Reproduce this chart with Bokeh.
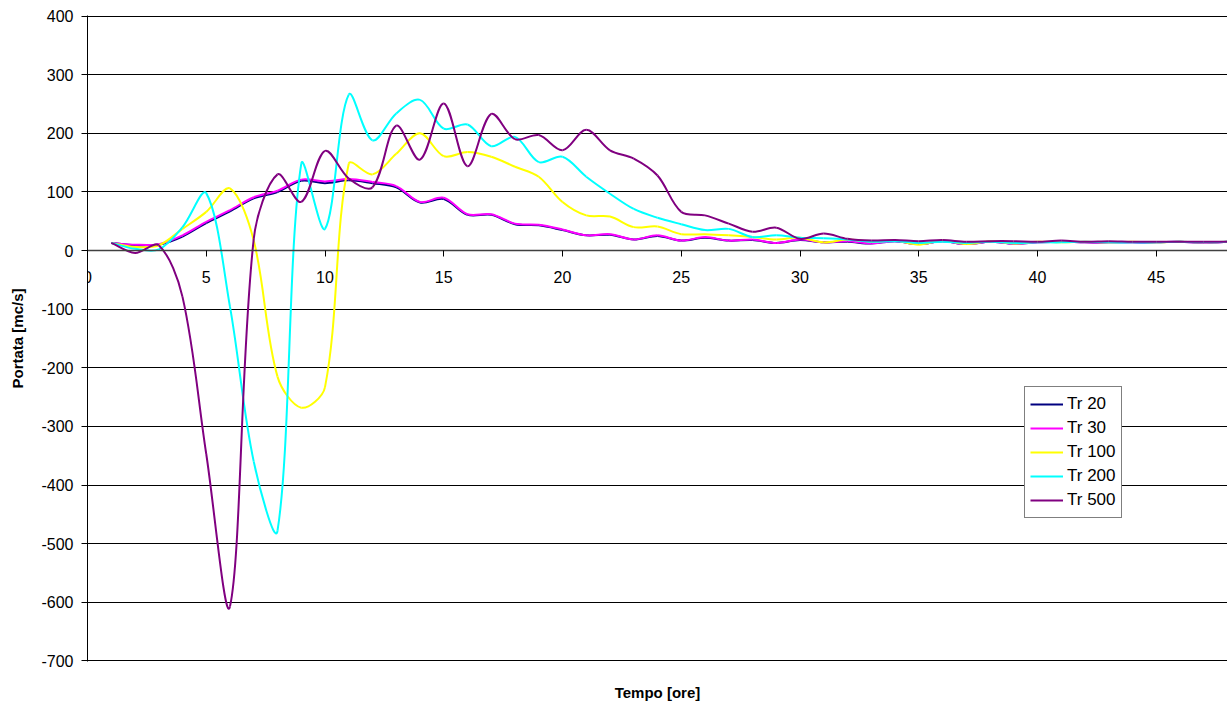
import math
from bokeh.plotting import figure
from bokeh.models import (Range1d, LinearAxis, FixedTicker, Legend, LegendItem,
                          ColumnDataSource, Grid, Label)
from bokeh.embed import file_html
from bokeh.resources import INLINE

# ---------------- data ----------------
hours = list(range(1, 49))

tr20 = [13, 9, 10, 24, 47, 67, 89, 100, 119, 115, 120, 115, 108, 82, 88, 61, 61, 45, 43, 35,
        26, 27, 19, 25, 17, 22, 17, 18, 13, 18, 14, 15, 12,
        16, 11, 16, 11, 15, 12, 14, 15, 14, 14, 14, 14, 15, 13, 15]
tr30 = [13, 10, 11, 26, 49, 69, 91, 102, 121, 118, 122, 117, 110, 83, 90, 62, 62, 46, 44, 36,
        26, 28, 19, 26, 17, 23, 17, 19, 13, 19, 14, 16, 12,
        16, 11, 16, 11, 15, 12, 14, 15, 14, 14, 14, 14, 15, 13, 15]
tr100 = [13, 6, 9, 37, 66, 106, 17, -215, -268, -233, 148, 130, 165, 200, 161, 168, 160, 143, 126, 83,
         60, 58, 40, 41, 28, 28, 26, 23, 19, 22, 14, 19, 15,
         17, 10, 17, 11, 16, 12, 15, 14, 15, 14, 15, 14, 15, 14, 15]
tr200 = [13, 3, 2, 40, 98, -96, -360, -478, 148, 37, 266, 188, 234, 257, 208, 215, 178, 194, 151, 160,
         126, 97, 71, 56, 45, 35, 37, 23, 26, 22, 21, 19, 15,
         16, 13, 15, 13, 15, 13, 14, 14, 15, 14, 14, 14, 15, 14, 15]
tr500 = [13, -4, 9, -79, -347, -607, 20, 130, 83, 170, 123, 108, 213, 155, 251, 144, 233, 190, 197, 171,
         206, 171, 157, 128, 66, 60, 46, 32, 39, 20, 29, 20, 17,
         18, 16, 18, 15, 16, 16, 15, 17, 15, 16, 15, 15, 15, 15, 15]

series_names = ["Tr 20", "Tr 30", "Tr 100", "Tr 200", "Tr 500"]
series_values = [tr20, tr30, tr100, tr200, tr500]
series_colors = ["#000080", "#FF00FF", "#FFFF00", "#00FFFF", "#800080"]

x_ticks = [0, 5, 10, 15, 20, 25, 30, 35, 40, 45]
x_tick_labels = ["0", "5", "10", "15", "20", "25", "30", "35", "40", "45"]
y_ticks = [400, 300, 200, 100, 0, -100, -200, -300, -400, -500, -600, -700]
y_tick_labels = ["400", "300", "200", "100", "0", "-100", "-200", "-300", "-400", "-500", "-600", "-700"]

FONT = "Liberation Sans"
TICK_FS = "16px"

# ---------------- figure ----------------
p = figure(width=1227, height=704, output_backend="svg", toolbar_location=None,
           x_range=Range1d(0, 48), y_range=Range1d(-701, 401),
           x_axis_type=None, y_axis_type=None,
           min_border_left=87, min_border_right=0, min_border_top=15, min_border_bottom=43)
p.outline_line_color = None
p.background_fill_color = "white"
p.border_fill_color = "white"

# y grid
grid = Grid(dimension=1, ticker=FixedTicker(ticks=y_ticks), grid_line_color="#000000",
            grid_line_width=1)
p.center.append(grid)

# y axis
yaxis = LinearAxis(ticker=FixedTicker(ticks=y_ticks),
                   major_label_overrides=dict(zip(y_ticks, y_tick_labels)),
                   axis_label="Portata [mc/s]")
yaxis.axis_line_color = "black"
yaxis.major_tick_line_color = "black"
yaxis.major_tick_out = 6
yaxis.major_tick_in = 0
yaxis.minor_tick_line_color = None
yaxis.major_label_standoff = 8
yaxis.major_label_text_font = FONT
yaxis.major_label_text_font_size = TICK_FS
yaxis.major_label_text_color = "black"
yaxis.axis_label_text_font = FONT
yaxis.axis_label_text_font_size = "15px"
yaxis.axis_label_text_font_style = "bold"
yaxis.axis_label_text_color = "black"
yaxis.axis_label_standoff = 12
p.add_layout(yaxis, "left")

# x axis crossing at zero
x_over = dict(zip(x_ticks, x_tick_labels))
x_over[x_ticks[0]] = ""
xaxis0 = LinearAxis(ticker=FixedTicker(ticks=x_ticks),
                    major_label_overrides=x_over,
                    fixed_location=0)
xaxis0.axis_line_color = "#404040"
xaxis0.axis_line_width = 1.5
xaxis0.major_tick_line_color = "black"
xaxis0.major_tick_out = 6
xaxis0.major_tick_in = 0
xaxis0.minor_tick_line_color = None
xaxis0.major_label_standoff = 14
xaxis0.major_label_text_font = FONT
xaxis0.major_label_text_font_size = TICK_FS
xaxis0.major_label_text_color = "black"
p.add_layout(xaxis0, "below")

# the "0" label of the crossing axis sits on the frame edge
p.add_layout(Label(x=x_ticks[0], y=0, text=x_tick_labels[0], text_align="center",
                   text_baseline="top", y_offset=-20, text_font=FONT,
                   text_font_size=TICK_FS, text_color="black", level="overlay"))

# title-only bottom axis
xtitle = LinearAxis(ticker=FixedTicker(ticks=[]), axis_label="Tempo [ore]")
xtitle.axis_line_color = None
xtitle.major_tick_line_color = None
xtitle.minor_tick_line_color = None
xtitle.major_label_text_font_size = "0px"
xtitle.axis_label_text_font = FONT
xtitle.axis_label_text_font_size = "15px"
xtitle.axis_label_text_font_style = "bold"
xtitle.axis_label_text_color = "black"
xtitle.axis_label_standoff = 22
p.add_layout(xtitle, "below")

# pixel scale (only used to shape the smoothing, like Excel's smoothed lines)
SX = 1140 / 48.0
SY = 646 / 1102.0


def bezier_source(xs, ys):
    n = len(xs)

    def dist(i, j):
        return math.hypot((xs[j] - xs[i]) * SX, (ys[j] - ys[i]) * SY)

    d = dict(x0=[], y0=[], x1=[], y1=[], cx0=[], cy0=[], cx1=[], cy1=[])
    for i in range(n - 1):
        im1 = max(i - 1, 0)
        ip2 = min(i + 2, n - 1)
        d01 = dist(im1, i)
        d12 = dist(i, i + 1)
        d23 = dist(i + 1, ip2)
        f1 = d12 / (d01 + d12) / 3.0 if (d01 + d12) > 0 else 0
        f2 = d12 / (d12 + d23) / 3.0 if (d12 + d23) > 0 else 0
        d["x0"].append(xs[i]); d["y0"].append(ys[i])
        d["x1"].append(xs[i + 1]); d["y1"].append(ys[i + 1])
        d["cx0"].append(xs[i] + (xs[i + 1] - xs[im1]) * f1)
        d["cy0"].append(ys[i] + (ys[i + 1] - ys[im1]) * f1)
        d["cx1"].append(xs[i + 1] - (xs[ip2] - xs[i]) * f2)
        d["cy1"].append(ys[i + 1] - (ys[ip2] - ys[i]) * f2)
    return ColumnDataSource(d)


items = []
for name, vals, col in zip(series_names, series_values, series_colors):
    src = bezier_source(hours, vals)
    p.bezier(x0="x0", y0="y0", x1="x1", y1="y1", cx0="cx0", cy0="cy0", cx1="cx1", cy1="cy1",
             source=src, line_color=col, line_width=2)
    proxy = p.line(x=[hours[0]], y=[vals[0]], line_color=col, line_width=2)
    items.append(LegendItem(label=name, renderers=[proxy]))

legend = Legend(items=items, location=(937, 143))
legend.border_line_color = "black"
legend.border_line_width = 1
legend.background_fill_color = "white"
legend.background_fill_alpha = 1
legend.padding = 5
legend.margin = 0
legend.spacing = 0
legend.glyph_width = 33
legend.glyph_height = 24
legend.label_height = 24
legend.label_standoff = 4
legend.label_text_font = FONT
legend.label_text_font_size = "17px"
legend.label_text_color = "black"
p.add_layout(legend)

open("out.html", "w").write(file_html(p, INLINE))
